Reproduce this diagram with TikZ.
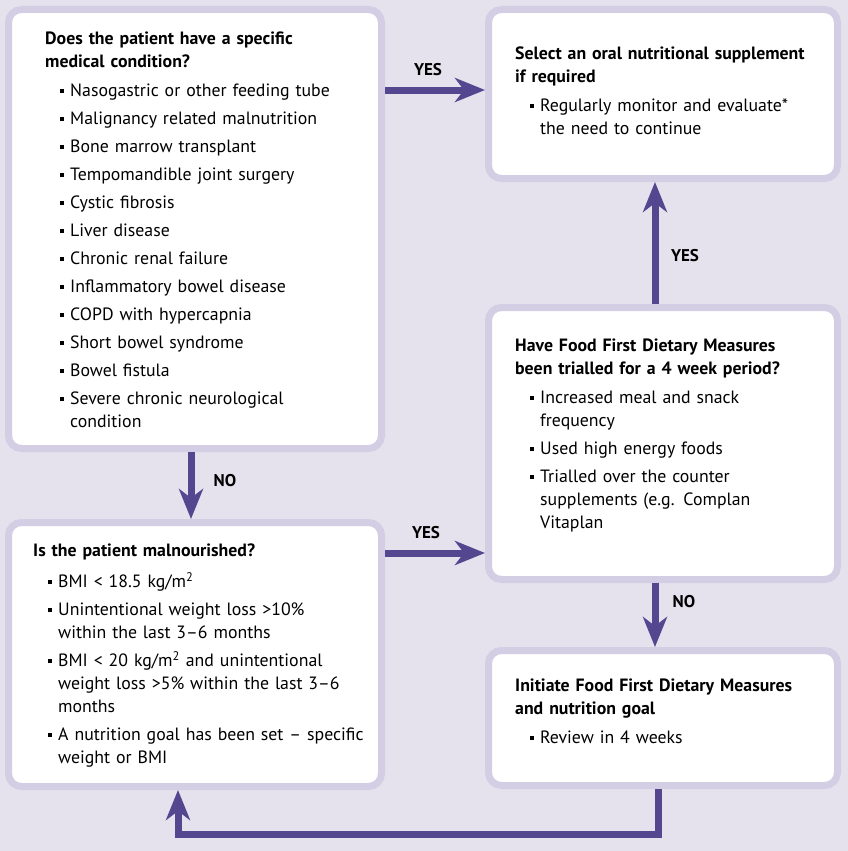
\documentclass[tikz,border=0pt]{standalone}
\usepackage{fontspec}
\setmainfont{PT Sans}
\usetikzlibrary{arrows.meta}
\definecolor{bgc}{HTML}{E5E2EE}
\definecolor{bdc}{HTML}{D3CEE4}
\definecolor{arc}{HTML}{54468F}
\newcommand{\bsq}{\llap{\raisebox{3.5pt}{\rule{4.5pt}{4.5pt}}\hspace{6pt}}}
\newcommand{\itm}[1]{\par\vspace{5pt}\noindent\bsq #1}
\tikzset{
  box/.style={draw=bdc, line width=7pt, rounded corners=13pt, fill=white},
  txt/.style={anchor=north west, inner sep=0pt, text width=345pt, align=left,
    font=\fontsize{17.8}{23}\selectfont},
  lbl/.style={font=\fontsize{17}{20}\selectfont\bfseries, inner sep=0pt},
  arr/.style={draw=arc, line width=7pt, -{Stealth[length=30pt,width=24pt,inset=9pt]}},
}
\begin{document}
\begin{tikzpicture}[x=1pt,y=-1pt]
\fill[bgc] (0,0) rectangle (848,851);
\useasboundingbox (0,0) rectangle (848,851);
% boxes
\node[box, minimum width=373pt, minimum height=439pt] (b1) at (195,229) {};
\node[box, minimum width=349pt, minimum height=169pt] (b2) at (663,94) {};
\node[box, minimum width=349pt, minimum height=272pt] (b3) at (663,443.5) {};
\node[box, minimum width=373pt, minimum height=264pt] (b4) at (195,654.5) {};
\node[box, minimum width=349pt, minimum height=135pt] (b5) at (663,718) {};
% texts
\node[txt] (t1) at (45,32) {\textbf{Does the patient have a specific\\medical condition?}\par\vspace{1pt}\leftskip=25pt
\itm{Nasogastric or other feeding tube}
\itm{Malignancy related malnutrition}
\itm{Bone marrow transplant}
\itm{Tempomandible joint surgery}
\itm{Cystic fibrosis}
\itm{Liver disease}
\itm{Chronic renal failure}
\itm{Inflammatory bowel disease}
\itm{COPD with hypercapnia}
\itm{Short bowel syndrome}
\itm{Bowel fistula}
\itm{Severe chronic neurological\\condition}\par};
\node[txt] (t2) at (515,47) {\textbf{Select an oral nutritional supplement\\if required}\par\vspace{1pt}\leftskip=25pt
\itm{Regularly monitor and evaluate*\\the need to continue}\par};
\node[txt] (t3) at (515,339) {\textbf{Have Food First Dietary Measures\\been trialled for a 4 week period?}\par\vspace{1pt}\leftskip=25pt
\itm{Increased meal and snack\\frequency}
\itm{Used high energy foods}
\itm{Trialled over the counter\\supplements (e.g. Complan\\Vitaplan}\par};
\node[txt] (t4) at (33,544) {\textbf{Is the patient malnourished?}\par\vspace{3pt}\leftskip=25pt
\itm{BMI < 18.5 kg/m\textsuperscript{2}}
\itm{Unintentional weight loss >10\%\\within the last 3–6 months}
\itm{BMI < 20 kg/m\textsuperscript{2} and unintentional\\weight loss >5\% within the last 3–6\\months}
\itm{A nutrition goal has been set – specific\\weight or BMI}\par};
\node[txt] (t5) at (515,679) {\textbf{Initiate Food First Dietary Measures\\and nutrition goal}\par\vspace{1pt}\leftskip=25pt
\itm{Review in 4 weeks}\par};
% connectors
\coordinate (ya) at (0,90);
\coordinate (yb) at (0,553);
\coordinate (xa) at (191,0);
\coordinate (xb) at (655,0);
\coordinate (xc) at (658,0);
\coordinate (xd) at (178,0);
\coordinate (lr) at (658,834);
\coordinate (ll) at (178,834);
\draw[arr] (b1.east |- ya) -- (b2.west |- ya);
\draw[arr] (b1.south -| xa) -- (b4.north -| xa);
\draw[arr] (b4.east |- yb) -- (b3.west |- yb);
\draw[arr] (b3.north -| xb) -- (b2.south -| xb);
\draw[arr] (b3.south -| xb) -- (b5.north -| xb);
\draw[arr] (b5.south -| xc) -- (lr) -- (ll) -- (b4.south -| xd);
% labels
\node[lbl] (l1) at (428,70) {YES};
\node[lbl] (l2) at (685,256) {YES};
\node[lbl] (l3) at (225,481) {NO};
\node[lbl] (l4) at (426,533) {YES};
\node[lbl] (l5) at (684,602) {NO};
\end{tikzpicture}
\end{document}
